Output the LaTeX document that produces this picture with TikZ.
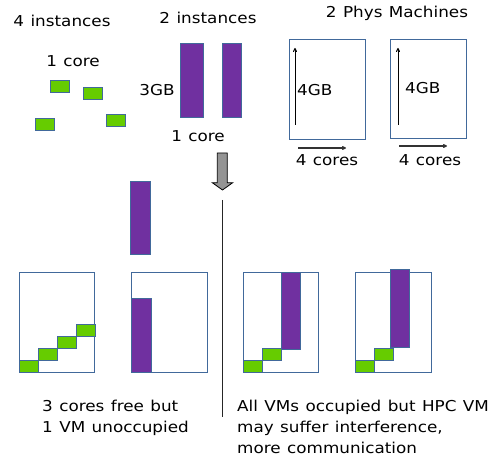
\documentclass[tikz,border=0pt]{standalone}
\usepackage{fontspec}
\setmainfont[WordSpace=1.2]{DejaVu Sans}
\usetikzlibrary{arrows.meta}
\definecolor{vmgreen}{RGB}{102,204,0}
\definecolor{vmpurple}{RGB}{112,48,160}
\definecolor{edgeblue}{RGB}{65,105,155}

\begin{document}
\begin{tikzpicture}[x=1pt,y=-1pt,
  lbl/.style={font=\fontsize{15}{21}\selectfont,inner sep=0pt,xscale=1.12,anchor=base},
  small/.style={draw=edgeblue,fill=vmgreen,line width=0.8pt},
  big/.style={draw=edgeblue,fill=vmpurple,line width=0.8pt},
  host/.style={draw=edgeblue,line width=0.8pt}]
\useasboundingbox (0,0) rectangle (488,457);
\def\w{19}\def\h{12}
\node[lbl] (inst4) at (62,26.5) {4 instances};
\node[lbl] (inst2) at (208,23.5) {2 instances};
\node[lbl] (phys) at (397,17.5) {2 Phys Machines};
\node[lbl] (core1) at (73,66.5) {1 core};
\node[lbl] (mem3) at (157,95.5) {3GB};
\node[lbl] (core2) at (198,141.5) {1 core};
\draw[small] (50,80) rectangle ++(\w,\h);\draw[small] (83,87) rectangle ++(\w,\h);
\draw[small] (35,118) rectangle ++(\w,\h);\draw[small] (106,114) rectangle ++(\w,\h);
\draw[big] (180,43) rectangle (203,117);\draw[big] (222,43) rectangle (241,117);
\draw[host] (289,39) rectangle (365,139);\draw[host] (390,39) rectangle (466,138);
\draw[-{To[length=4pt,width=4pt]},line width=1pt] (295,125) -- (295,48);
\draw[-{To[length=4pt,width=4pt]},line width=1pt] (398,125) -- (398,48);
\node[lbl,anchor=base west] (mem4a) at (297,95.5) {4GB};
\node[lbl,anchor=base west] (mem4b) at (405,93.5) {4GB};
\draw[-{To[length=4pt,width=4pt]},line width=1.2pt,black!80] (298,148) -- (346,148);
\draw[-{To[length=4pt,width=4pt]},line width=1.2pt,black!80] (399,146) -- (447,146);
\node[lbl] (cores4a) at (327,165.5) {4 cores};
\node[lbl] (cores4b) at (430,165.5) {4 cores};
\draw[fill=black!42,line width=0.8pt] (217.3,153) -- (227.3,153) -- (227.3,182.7) -- (232.7,182.7)
  -- (222.5,190) -- (212.3,182.7) -- (217.3,182.7) -- cycle;
\draw[line width=1pt,black!85] (222,200) -- (222,417);
\draw[big] (130,181) rectangle (150,254);
\draw[host] (19,272) rectangle (94,372);
\foreach \i in {0,...,3}
  \draw[small] ({19+\w*\i},{360-11.7*\i}) rectangle ++(\w,\h);
\draw[host] (131,272) rectangle (207,372);
\draw[big] (131,298) rectangle (151,372);
\draw[host] (243,272) rectangle (318,372);
\draw[small] (243,360) rectangle ++(\w,\h);\draw[small] (262,348) rectangle ++(\w,\h);
\draw[big] (281,272) rectangle (300,349);
\draw[host] (355,272) rectangle (431,372);
\draw[small] (355,360) rectangle ++(\w,\h);\draw[small] (374,348) rectangle ++(\w,\h);
\draw[big] (390,269) rectangle (409,347);
\node[lbl,anchor=north west,align=left] (free) at (42,400) {3 cores free but\\1 VM unoccupied};
\node[lbl,anchor=north west,align=left] (busy) at (237,399.5) {All VMs occupied but HPC VM\\may suffer interference,\\more communication};
\end{tikzpicture}
\end{document}
